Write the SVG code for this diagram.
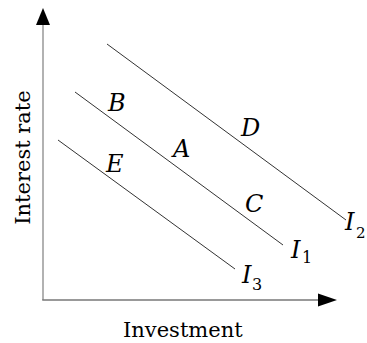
<svg xmlns="http://www.w3.org/2000/svg" width="367" height="343" viewBox="0 0 367 343">
<style>
.axis{stroke:#999;stroke-width:1.5;fill:none}
.curve{stroke:#333;stroke-width:1;fill:none}
.lbl{font-family:"DejaVu Serif",serif;font-style:italic;font-size:24px;fill:#000}
.sub{font-family:"DejaVu Serif",serif;font-size:16px;fill:#000}
.ax{font-family:"DejaVu Serif",serif;font-size:21px;fill:#000}
</style>
<rect width="367" height="343" fill="#fff"/>
<g id="axes">
<line class="axis" x1="43" y1="24" x2="43" y2="300"/>
<line class="axis" x1="42.25" y1="300" x2="320" y2="300" style="stroke:#777"/>
<polygon points="43,8 36,25 50,25" fill="#000"/>
<polygon points="337,300 318,293.5 318,306.5" fill="#000"/>
<text class="ax" x="123" y="337">Investment</text>
<text class="ax" transform="translate(30,157.5) rotate(-90)" text-anchor="middle">Interest rate</text>
</g>
<g id="connectors">
<line class="curve" x1="107" y1="44" x2="346" y2="220"/>
<line class="curve" x1="75" y1="92" x2="283" y2="245"/>
<line class="curve" x1="58" y1="140" x2="235" y2="269"/>
</g>
<g id="labels">
<text class="lbl" x="108" y="111">B</text>
<text class="lbl" x="241" y="136">D</text>
<text class="lbl" x="173" y="157">A</text>
<text class="lbl" x="106" y="172">E</text>
<text class="lbl" x="245" y="212">C</text>
</g>
<g id="I1"><text class="lbl" x="291" y="258">I</text><text class="sub" x="302" y="263">1</text></g>
<g id="I2"><text class="lbl" x="345" y="230">I</text><text class="sub" x="356" y="238" style="font-size:15px">2</text></g>
<g id="I3"><text class="lbl" x="242" y="283">I</text><text class="sub" x="252" y="290">3</text></g>
</svg>
